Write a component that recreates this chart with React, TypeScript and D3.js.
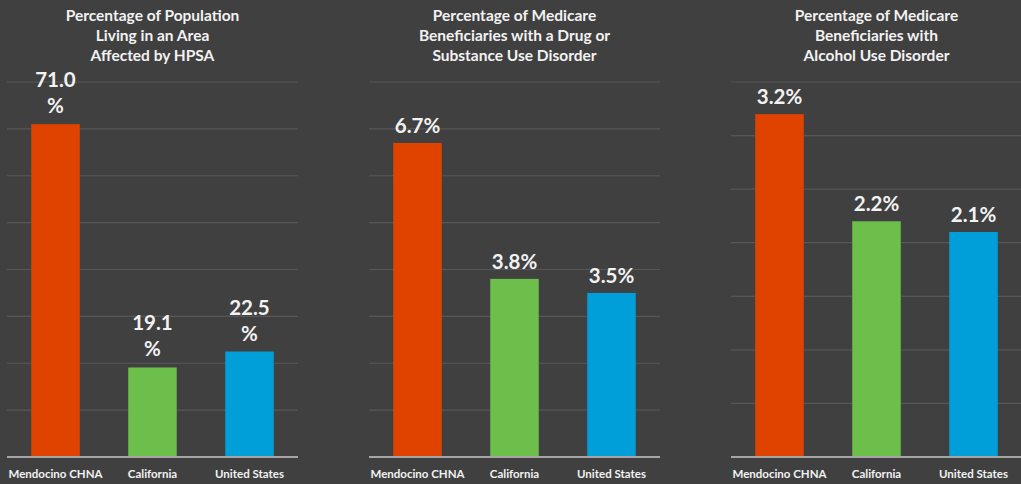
import React from 'react'
import * as d3 from 'd3'

const categories = ['Mendocino CHNA', 'California', 'United States']
const barColors = ['#e04300', '#6cbf4b', '#009fda']

const hpsaTitle = ['Percentage of Population', 'Living in an Area', 'Affected by HPSA']
const hpsaValues = [71.0, 19.1, 22.5]

const drugTitle = ['Percentage of Medicare', 'Beneficiaries with a Drug or', 'Substance Use Disorder']
const drugValues = [6.7, 3.8, 3.5]

const alcoholTitle = ['Percentage of Medicare', 'Beneficiaries with', 'Alcohol Use Disorder']
const alcoholValues = [3.2, 2.2, 2.1]

const FONT = 'Lato, "Open Sans", sans-serif'
const W = 1021
const H = 484
const top = 82
const bottom = 457

interface PanelProps {
  title: string[]
  values: number[]
  max: number
  step: number
  x0: number
  x1: number
}

const Panel: React.FC<PanelProps> = ({ title, values, max, step, x0, x1 }) => {
  const x = d3.scaleBand().domain(categories).range([x0, x1]).paddingInner(0.5).paddingOuter(0.25)
  const y = d3.scaleLinear().domain([0, max]).range([bottom, top])
  const ticks = d3.range(step, max + step / 2, step)
  const cx = (x0 + x1) / 2
  const fmt = d3.format('.1f')

  return (
    <g>
      <text
        x={cx}
        y={20.5}
        textAnchor="middle"
        fill="#f2f2f2"
        fontSize={15.5}
        fontWeight={700}
        fontFamily={FONT}
      >
        {title.map((t, i) => (
          <tspan key={i} x={cx} dy={i === 0 ? 0 : 20.3}>
            {t}
          </tspan>
        ))}
      </text>
      {ticks.map(t => (
        <line key={t} x1={x0} x2={x1} y1={y(t)} y2={y(t)} stroke="#575757" strokeWidth={1.2} />
      ))}
      {values.map((v, i) => {
        const c = categories[i]
        const bx = x(c)!
        const bw = x.bandwidth()
        const label = fmt(v) + '%'
        // long labels wrap the % sign onto a second line, as in the original
        const wrap = label.length * 11 > bw
        const mid = bx + bw / 2
        return (
          <g key={c}>
            <rect x={bx} y={y(v)} width={bw} height={bottom - y(v)} fill={barColors[i]} />
            <text
              x={mid}
              textAnchor="middle"
              fill="#f2f2f2"
              fontSize={20.5}
              fontWeight={700}
              fontFamily={FONT}
            >
              {wrap ? (
                <>
                  <tspan x={mid} y={y(v) - 37}>{fmt(v)}</tspan>
                  <tspan x={mid} y={y(v) - 11}>%</tspan>
                </>
              ) : (
                <tspan x={mid} y={y(v) - 10}>{label}</tspan>
              )}
            </text>
            <text
              x={mid}
              y={478}
              textAnchor="middle"
              fill="#f2f2f2"
              fontSize={11.5}
              fontWeight={700}
              fontFamily={FONT}
            >
              {c}
            </text>
          </g>
        )
      })}
      <line x1={x0} x2={x1} y1={bottom} y2={bottom} stroke="#a6a6a6" strokeWidth={2} />
    </g>
  )
}

export default function App() {
  return (
    <svg
      width={W}
      height={H}
      viewBox={`0 0 ${W} ${H}`}
      style={{ position: 'fixed', left: 0, top: 0, background: '#404040', display: 'block' }}
    >
      <rect width={W} height={H} fill="#404040" />
      <Panel title={hpsaTitle} values={hpsaValues} max={80} step={10} x0={7} x1={298} />
      <Panel title={drugTitle} values={drugValues} max={8} step={1} x0={369} x1={660} />
      <Panel title={alcoholTitle} values={alcoholValues} max={3.5} step={0.5} x0={731} x1={1022} />
    </svg>
  )
}
